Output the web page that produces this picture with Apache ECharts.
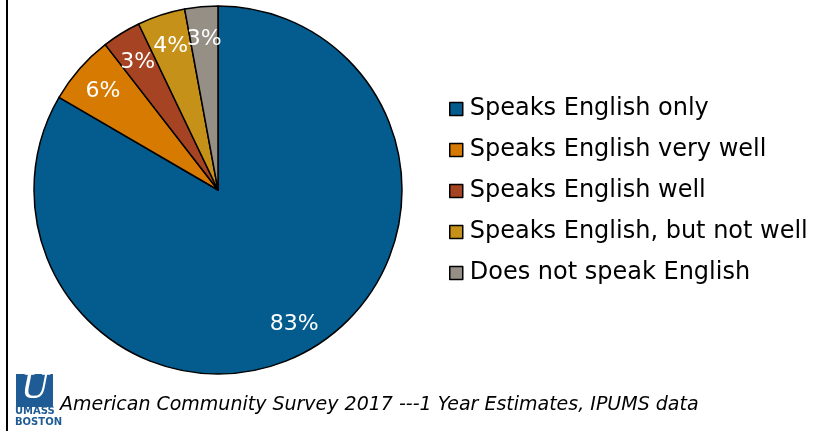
<!DOCTYPE html>
<html>
<head>
<meta charset="utf-8">
<script src="https://cdn.jsdelivr.net/npm/echarts@6/dist/echarts.min.js"></script>
<style>
html,body{margin:0;padding:0;background:#fff;}
#chart{width:826px;height:431px;}
</style>
</head>
<body>
<div id="chart"></div>
<script>
// Data
var categories = ['Speaks English only', 'Speaks English very well', 'Speaks English well', 'Speaks English, but not well', 'Does not speak English'];
var shares = [83.4, 6.1, 3.4, 4.2, 2.9];
var colors = ['#035B8E', '#D67A02', '#A54322', '#C69119', '#968F86'];
var sourceNote = 'American Community Survey 2017 ---1 Year Estimates, IPUMS data';
var labelTexts = ['83%', '6%', '3%', '4%', '3%'];

var pieData = categories.map(function (c, i) {
  return { name: c, value: shares[i], itemStyle: { color: colors[i] } };
});
var labelData = categories.map(function (c, i) {
  return { name: c, value: shares[i], label: { formatter: labelTexts[i] } };
});

var FONT = '"DejaVu Sans", "Liberation Sans", Arial, sans-serif';

var chart = echarts.init(document.getElementById('chart'), null, { renderer: 'canvas' });
chart.setOption({
  animation: false,
  backgroundColor: '#fff',
  legend: {
    orient: 'vertical',
    left: 449,
    top: 97,
    padding: 0,
    data: categories,
    icon: 'rect',
    itemWidth: 13,
    itemHeight: 13,
    itemGap: 17,
    itemStyle: { borderColor: '#000', borderWidth: 1.5 },
    textStyle: { fontFamily: FONT, fontSize: 24, color: '#000', lineHeight: 24, padding: [0, 0, 0, 2] },
    selectedMode: false
  },
  series: [
    {
      type: 'pie',
      center: [218, 190],
      radius: [0, 184],
      startAngle: 90,
      clockwise: true,
      avoidLabelOverlap: false,
      label: { show: false },
      labelLine: { show: false },
      itemStyle: { borderColor: '#000', borderWidth: 1.5 },
      emphasis: { disabled: true },
      data: pieData
    },
    {
      type: 'pie',
      center: [218, 192],
      radius: [116, 184],
      startAngle: 90,
      clockwise: true,
      silent: true,
      avoidLabelOverlap: false,
      itemStyle: { color: 'rgba(0,0,0,0)', borderWidth: 0 },
      label: {
        show: true,
        position: 'inside',
        color: '#fff',
        fontFamily: FONT,
        fontSize: 22
      },
      labelLayout: { hideOverlap: false },
      labelLine: { show: false },
      emphasis: { disabled: true },
      data: labelData
    }
  ],
  graphic: [
    { type: 'line', shape: { x1: 7, y1: 0, x2: 7, y2: 431 }, style: { stroke: '#000', lineWidth: 2 } },
    { type: 'rect', shape: { x: 16, y: 374, width: 37, height: 33 }, style: { fill: '#1F5C95' } },
    { type: 'text', left: 21, top: 372, style: { text: 'U', fill: '#fff', font: 'italic 34px "DejaVu Serif", serif' } },
    { type: 'text', left: 15, top: 406, style: { text: 'UMASS', fill: '#1F5C95', font: 'bold 10px "DejaVu Sans", sans-serif' } },
    { type: 'text', left: 15, top: 417, style: { text: 'BOSTON', fill: '#1F5C95', font: 'bold 10px "DejaVu Sans", sans-serif' } },
    { type: 'text', left: 60, top: 396, style: { text: sourceNote, fill: '#000', font: 'oblique 19px "DejaVu Sans", sans-serif' } }
  ]
});
</script>
</body>
</html>
